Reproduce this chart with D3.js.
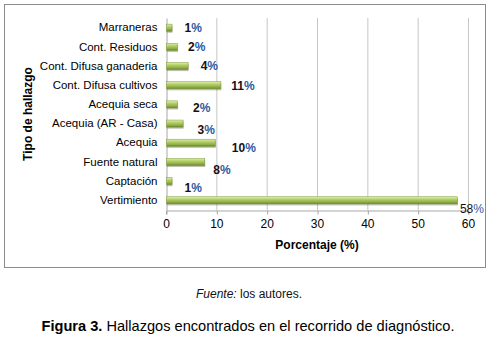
<!DOCTYPE html>
<html>
<head>
<meta charset="utf-8">
<script src="https://cdn.jsdelivr.net/npm/d3@7"></script>
<style>
  body { margin: 0; background: #fff; }
  svg { display: block; font-family: "Liberation Sans", Arial, sans-serif; }
</style>
</head>
<body>
<div id="chart"></div>
<script>
// data, top to bottom as in the figure
const categories = ["Marraneras", "Cont. Residuos", "Cont. Difusa ganaderia", "Cont. Difusa cultivos",
  "Acequia seca", "Acequia (AR - Casa)", "Acequia", "Fuente natural", "Captación", "Vertimiento"];
const percentages = [1.1, 2.2, 4.3, 10.8, 2.2, 3.3, 9.7, 7.6, 1.1, 57.8];
const xTicks = [0, 10, 20, 30, 40, 50, 60];

// label nudges (px) as they were hand placed in the original
const labelNudge = [[13, 0], [11, 0], [13, 0], [11, 1], [16, 3], [15, 6], [17, 5], [9, 8], [13, 7], [3, 8]];

const W = 492, H = 338;
const plot = {left: 166, right: 468, top: 18, bottom: 210};

const svg = d3.select("#chart").append("svg")
    .attr("width", W)
    .attr("height", H);

// outer frame of the chart
svg.append("rect")
    .attr("x", 4.5).attr("y", 4.5)
    .attr("width", 481).attr("height", 263)
    .attr("fill", "#fff")
    .attr("stroke", "#8c8c8c");

const defs = svg.append("defs");
const grad = defs.append("linearGradient")
    .attr("id", "barGrad")
    .attr("x1", 0).attr("y1", 0).attr("x2", 0).attr("y2", 1);
grad.append("stop").attr("offset", "0%").attr("stop-color", "#e2efb0");
grad.append("stop").attr("offset", "35%").attr("stop-color", "#b5d06a");
grad.append("stop").attr("offset", "75%").attr("stop-color", "#8fae45");
grad.append("stop").attr("offset", "100%").attr("stop-color", "#64802a");

const x = d3.scaleLinear()
    .domain([0, 60])
    .range([plot.left, plot.right]);

const y = d3.scaleBand()
    .domain(categories)
    .range([plot.top, plot.bottom])
    .paddingInner(0.63)
    .paddingOuter(0.32);

// gridlines
svg.append("g")
    .selectAll("line")
    .data(xTicks.slice(1))
    .enter().append("line")
      .attr("x1", d => x(d) + 0.5).attr("x2", d => x(d) + 0.5)
      .attr("y1", plot.top).attr("y2", plot.bottom)
      .attr("stroke", "#c6c6c6");

// x axis
const xAxis = svg.append("g")
    .attr("transform", `translate(0,${plot.bottom + 0.5})`)
    .call(d3.axisBottom(x).tickValues(xTicks).tickSizeOuter(0).tickSize(4).tickPadding(5));
xAxis.select(".domain").attr("stroke", "#a8a8a8");
xAxis.selectAll(".tick line").attr("stroke", "#a8a8a8").attr("transform", "translate(0.5,0)");
xAxis.selectAll("text").attr("font-size", "12px").attr("fill", "#000");

// y axis
const yAxis = svg.append("g")
    .attr("transform", `translate(${plot.left + 0.5},0)`)
    .call(d3.axisLeft(y).tickSize(0).tickPadding(9));
yAxis.select(".domain").attr("stroke", "#a8a8a8");
yAxis.selectAll("text").attr("font-size", "11.5px").attr("fill", "#000");

// bars with a small shadow
const bh = y.bandwidth();
svg.append("g").selectAll("rect")
    .data(percentages)
    .enter().append("rect")
      .attr("x", x(0) + 1)
      .attr("y", (d, i) => y(categories[i]) + 1.5)
      .attr("width", d => x(d) - x(0))
      .attr("height", bh)
      .attr("fill", "rgba(60,70,30,0.35)");

svg.append("g").selectAll("rect")
    .data(percentages)
    .enter().append("rect")
      .attr("x", x(0) + 0.5)
      .attr("y", (d, i) => y(categories[i]))
      .attr("width", d => x(d) - x(0))
      .attr("height", bh)
      .attr("fill", "url(#barGrad)")
      .attr("stroke", "#7d9a38")
      .attr("stroke-width", 0.5);

// value labels
const labels = svg.append("g").selectAll("text")
    .data(percentages)
    .enter().append("text")
      .attr("x", (d, i) => x(d) + labelNudge[i][0])
      .attr("y", (d, i) => y(categories[i]) + bh / 2 + labelNudge[i][1])
      .attr("dy", "0.35em")
      .attr("font-size", "12px")
      .attr("font-weight", (d, i) => i === 9 ? "normal" : "bold")
      .attr("fill", "#1a1010");
labels.append("tspan").text(d => Math.round(d));
labels.append("tspan").attr("fill", "#2b5a9e").text("%");

// axis titles
svg.append("text")
    .attr("x", (plot.left + plot.right) / 2)
    .attr("y", 249)
    .attr("text-anchor", "middle")
    .attr("font-size", "12px")
    .attr("font-weight", "bold")
    .text("Porcentaje (%)");

svg.append("text")
    .attr("transform", "translate(32,114) rotate(-90)")
    .attr("text-anchor", "middle")
    .attr("font-size", "12px")
    .attr("font-weight", "bold")
    .text("Tipo de hallazgo");

// source and caption
const src = svg.append("text")
    .attr("x", 249)
    .attr("y", 298)
    .attr("text-anchor", "middle")
    .attr("font-size", "12px")
    .attr("fill", "#111");
src.append("tspan").attr("font-style", "italic").text("Fuente:");
src.append("tspan").text(" los autores.");

const cap = svg.append("text")
    .attr("x", 248)
    .attr("y", 331)
    .attr("text-anchor", "middle")
    .attr("font-size", "14.6px")
    .attr("fill", "#000");
cap.append("tspan").attr("font-weight", "bold").text("Figura 3.");
cap.append("tspan").text(" Hallazgos encontrados en el recorrido de diagnóstico.");
</script>
</body>
</html>
